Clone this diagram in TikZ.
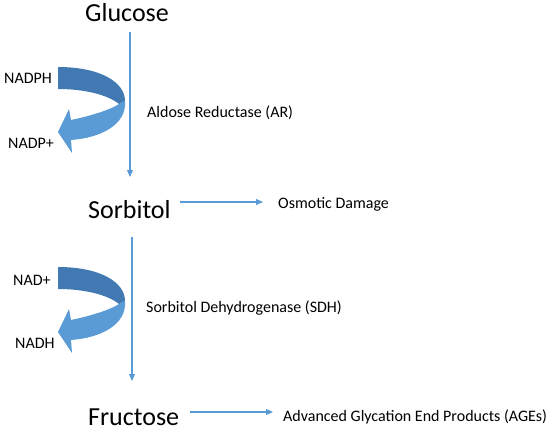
\documentclass[tikz,border=0pt]{standalone}
\usepackage{fontspec}
\setmainfont{Carlito}
\usetikzlibrary{arrows.meta,calc}
\definecolor{lightband}{RGB}{91,155,213}
\definecolor{darkband}{RGB}{66,121,178}
\definecolor{lineblue}{RGB}{91,155,213}
\tikzset{
  big/.style={inner sep=0pt,anchor=base west,font=\fontsize{26}{30}\selectfont},
  small/.style={inner sep=0pt,anchor=base west,font=\fontsize{16}{19}\selectfont},
  flow/.style={draw=lineblue,line width=1.1pt,-{Triangle[length=7pt,width=6pt]}},
  cofactor/.pic={
    \fill[darkband] (58,67) .. controls (100,67) and (125,82) .. (125,101)
      -- (119,104) .. controls (108,95) and (85,89) .. (58,89) -- cycle;
    \fill[lightband] (71,120) .. controls (90,116) and (110,110) .. (119,104)
      -- (125,101) .. controls (127,125) and (100,138) .. (71,140)
      -- (72,153) -- (58,132) -- (69,109) -- cycle;
  }
}
\begin{document}
\begin{tikzpicture}[x=1pt,y=-1pt]
\useasboundingbox (0,0) rectangle (550,431);
\node[big] (glucose) at (85,22) {Glucose};
\node[big] (sorbitol) at (88,218) {Sorbitol};
\node[big] (fructose) at (88,425) {Fructose};
\node[small] (ar) at (147,117) {Aldose Reductase (AR)};
\node[small] (sdh) at (146,312) {Sorbitol Dehydrogenase (SDH)};
\node[small] (osm) at (278,208) {Osmotic Damage};
\node[small] (ages) at (283,421) {Advanced Glycation End Products (AGEs)};
\node[small] (nadph) at (4,83) {NADPH};
\node[small] (nadp) at (8,148) {NADP+};
\node[small] (nad) at (13,285) {NAD+};
\node[small] (nadh) at (15,348) {NADH};
\pic at (0,0) {cofactor};
\pic at (0,200) {cofactor};
\draw[flow] ($(glucose.base west)+(45,10)$) -- ($(sorbitol.base west)+(42,-41)$);
\draw[flow] ($(sorbitol.base west)+(44,19)$) -- ($(fructose.base west)+(44,-44)$);
\draw[flow] ($(sorbitol.base west)+(92,-16)$) -- ($(osm.base west)+(-15,-6)$);
\draw[flow] ($(fructose.base west)+(102,-13)$) -- ($(ages.base west)+(-10,-9)$);
\end{tikzpicture}
\end{document}
